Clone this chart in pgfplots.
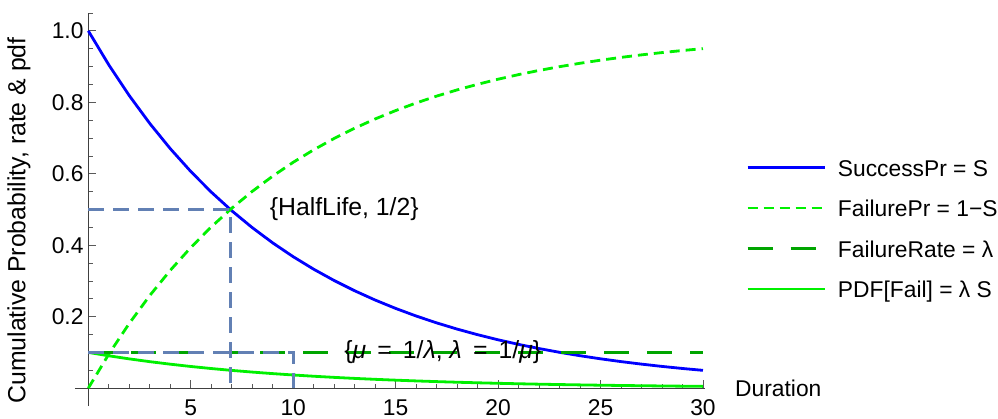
\documentclass[border=0pt]{standalone}
\usepackage{fontspec}
\setmainfont{Liberation Sans}
\usepackage{pgfplots}
\usepackage{pgfplotstable}
\pgfplotsset{compat=1.18}
\definecolor{refblue}{RGB}{98,128,180}
\definecolor{dkgreen}{RGB}{0,165,0}
\definecolor{brgreen}{RGB}{0,240,0}
\newcommand\F{\fontsize{22.8bp}{27bp}\selectfont}
\newcommand\FL{\fontsize{22.8bp}{27bp}\selectfont}
\newcommand\FA{\fontsize{24.8bp}{30bp}\selectfont}
\newcommand\FY{\fontsize{24.8bp}{30bp}\selectfont}
\newcommand\eq{\hspace{0.45em}=\hspace{0.45em}}
\pgfplotstableread{
x S F P
0 1.000000 0.000000 0.1000000
1 0.904837 0.095163 0.0904837
2 0.818731 0.181269 0.0818731
3 0.740818 0.259182 0.0740818
4 0.670320 0.329680 0.0670320
5 0.606531 0.393469 0.0606531
6 0.548812 0.451188 0.0548812
7 0.496585 0.503415 0.0496585
8 0.449329 0.550671 0.0449329
9 0.406570 0.593430 0.0406570
10 0.367879 0.632121 0.0367879
11 0.332871 0.667129 0.0332871
12 0.301194 0.698806 0.0301194
13 0.272532 0.727468 0.0272532
14 0.246597 0.753403 0.0246597
15 0.223130 0.776870 0.0223130
16 0.201897 0.798103 0.0201897
17 0.182684 0.817316 0.0182684
18 0.165299 0.834701 0.0165299
19 0.149569 0.850431 0.0149569
20 0.135335 0.864665 0.0135335
21 0.122456 0.877544 0.0122456
22 0.110803 0.889197 0.0110803
23 0.100259 0.899741 0.0100259
24 0.090718 0.909282 0.0090718
25 0.082085 0.917915 0.0082085
26 0.074274 0.925726 0.0074274
27 0.067206 0.932794 0.0067206
28 0.060810 0.939190 0.0060810
29 0.055023 0.944977 0.0055023
30 0.049787 0.950213 0.0049787
}\datatable
\begin{document}
\F
\begin{tikzpicture}
\begin{axis}[
  scale only axis,
  width=630bp, height=393bp,
  xmin=-0.65, xmax=30.1,
  ymin=-0.05, ymax=1.05,
  axis lines=middle,
  axis line style={-, black!75, line width=0.8bp},
  tick align=inside,
  major tick length=8bp,
  minor tick length=4.5bp,
  tick style={black!65, line width=0.8bp},
  xtick={5,10,15,20,25,30},
  ytick={0.2,0.4,0.6,0.8,1.0},
  minor xtick={1,2,3,4,6,7,8,9,11,12,13,14,16,17,18,19,21,22,23,24,26,27,28,29},
  minor ytick={0.05,0.1,0.15,0.25,0.3,0.35,0.45,0.5,0.55,0.65,0.7,0.75,0.85,0.9,0.95,1.05},
  yticklabel style={/pgf/number format/fixed, /pgf/number format/fixed zerofill, /pgf/number format/precision=1, font=\F, xshift=3bp},
  xticklabel style={font=\F, yshift=-4bp},
  /pgf/number format/assume math mode=true,
  xlabel={Duration},
  ylabel={Cumulative Probability, rate \& pdf},
  every axis x label/.style={at={(axis description cs:1.0476,0.0458)}, anchor=west, inner sep=0pt, font=\F},
  every axis y label/.style={at={(axis description cs:-0.089,0.472)}, rotate=90, anchor=center, font=\FY},
  legend style={draw=none, fill=none, font=\FL, at={(axis description cs:1.065,0.639)}, anchor=north west,
    inner sep=0pt, row sep=15.5bp, column sep=12bp,
    nodes={inner sep=0pt, text height=21bp, text depth=4bp}},
  legend cell align=left,
  legend image code/.code={\draw[#1] (0bp,0bp) -- (77bp,0bp);},
  clip=false,
]
\addplot[blue, line width=2.8bp] table[x=x, y=S] {\datatable};
\addlegendentry{SuccessPr = S}
\addplot[brgreen, line width=2.8bp, dash pattern=on 10bp off 6bp] table[x=x, y=F] {\datatable};
\addlegendentry{FailurePr = 1−S}
\addplot[dkgreen, line width=2.8bp, dash pattern=on 25bp off 18bp] coordinates {(0,0.1) (30,0.1)};
\addlegendentry{FailureRate = λ}
\addplot[brgreen, line width=2.8bp] table[x=x, y=P] {\datatable};
\addlegendentry{PDF[Fail] = λ S}
\addplot[refblue, line width=2.8bp, dash pattern=on 16bp off 9bp, forget plot] coordinates {(0,0.5) (6.931,0.5) (6.931,0)};
\addplot[refblue, line width=2.8bp, dash pattern=on 16bp off 9bp, forget plot] coordinates {(0,0.1) (10,0.1) (10,0)};
\node[anchor=west, inner sep=0pt, font=\FA] at (axis cs:8.85,0.5) {\{HalfLife, 1/2\}};
\node[anchor=center, inner sep=0pt, font=\FA] at (axis cs:17.3,0.1) {\{\textit{μ}\eq 1/\textit{λ}, \textit{λ}\eq 1/\textit{μ}\}};
\end{axis}
\pgfresetboundingbox
\path[use as bounding box] (-75bp,-13bp) rectangle (923bp,406bp);
\end{tikzpicture}
\end{document}
